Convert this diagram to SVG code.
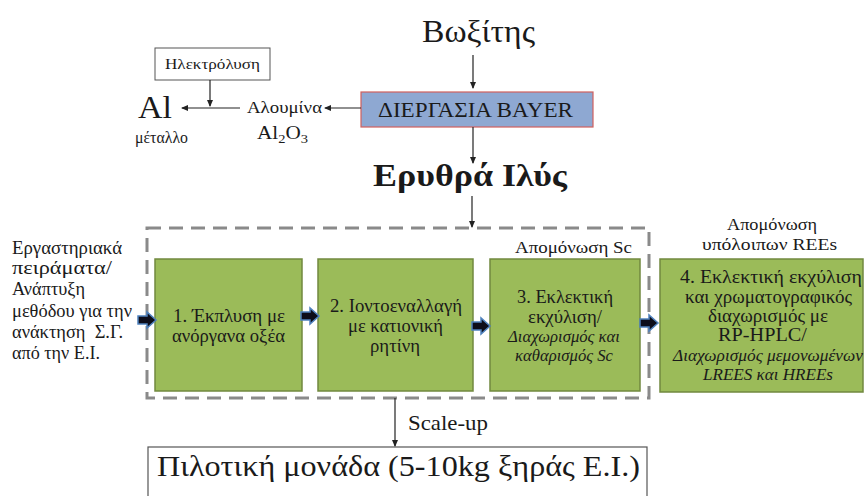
<svg xmlns="http://www.w3.org/2000/svg" width="864" height="496" viewBox="0 0 864 496">
  <style>
    text { font-family: "Liberation Serif", "Times New Roman", serif; fill: #1a1a1a; }
    .c { text-anchor: middle; }
    .step { font-size: 18px; }
    .it { font-style: italic; font-size: 16.5px; }
    .note { font-size: 18px; }
    .green { fill: #9BBB59; stroke: #71893F; stroke-width: 1.5; }
    .thin { stroke: #222; stroke-width: 1.2; fill: none; marker-end: url(#ah); }
    .block { fill: #0d0d1a; stroke: #4F81BD; stroke-width: 1.5; stroke-linejoin: miter; }
  </style>
  <defs>
    <marker id="ah" markerWidth="7" markerHeight="6" refX="6" refY="3" orient="auto" markerUnits="userSpaceOnUse">
      <path d="M0,0 L7,3 L0,6 Z" fill="#222"/>
    </marker>
    <path id="blk" d="M0,-4 H9 V-8 L18,0 L9,8 V4 H0 Z"/>
  </defs>

  <rect width="864" height="496" fill="#ffffff"/>

  <!-- dashed frame around the Sc separation steps -->
  <rect x="147" y="228" width="502" height="170" fill="none" stroke="#8a8a8a" stroke-width="3" stroke-dasharray="14 8"/>

  <g id="bauxite">
    <text x="478.5" y="42" class="c" font-size="31" textLength="113" lengthAdjust="spacingAndGlyphs">Βωξίτης</text>
  </g>

  <g id="bayer">
    <rect x="361" y="92" width="232" height="35" fill="#8EA8D2" stroke="#D0605E" stroke-width="1.2"/>
    <text x="475.5" y="117" class="c" font-size="22" textLength="195" lengthAdjust="spacingAndGlyphs">ΔΙΕΡΓΑΣΙΑ BAYER</text>
  </g>

  <g id="alumina">
    <text x="284.5" y="113" class="c" font-size="17.5" textLength="75" lengthAdjust="spacingAndGlyphs">Αλουμίνα</text>
    <text x="282.5" y="139" class="c" font-size="19" textLength="51" lengthAdjust="spacingAndGlyphs">Al<tspan font-size="13" dy="4">2</tspan><tspan dy="-4">O</tspan><tspan font-size="13" dy="4">3</tspan></text>
  </g>

  <g id="electrolysis">
    <rect x="155" y="48" width="115" height="32" fill="#ffffff" stroke="#555" stroke-width="1"/>
    <text x="212.5" y="69" class="c" font-size="15.5" textLength="95" lengthAdjust="spacingAndGlyphs">Ηλεκτρόλυση</text>
  </g>

  <g id="al-metal">
    <text x="155" y="118" class="c" font-size="32" textLength="34" lengthAdjust="spacingAndGlyphs">Al</text>
    <text x="161.5" y="143" class="c" font-size="16.5" textLength="53" lengthAdjust="spacingAndGlyphs">μέταλλο</text>
  </g>

  <g id="red-mud">
    <text x="470" y="186" class="c" font-size="32" font-weight="bold" textLength="194" lengthAdjust="spacingAndGlyphs">Ερυθρά Ιλύς</text>
  </g>

  <g id="lab-note">
    <text x="12" y="254" class="note" textLength="110" lengthAdjust="spacingAndGlyphs">Εργαστηριακά</text>
    <text x="12" y="274" class="note" textLength="100" lengthAdjust="spacingAndGlyphs">πειράματα/</text>
    <text x="12" y="295" class="note" textLength="73" lengthAdjust="spacingAndGlyphs">Ανάπτυξη</text>
    <text x="12" y="317" class="note" textLength="120" lengthAdjust="spacingAndGlyphs">μεθόδου για την</text>
    <text x="12" y="338" class="note" textLength="111" lengthAdjust="spacingAndGlyphs">ανάκτηση&#160; Σ.Γ.</text>
    <text x="12" y="359" class="note" textLength="88" lengthAdjust="spacingAndGlyphs">από την Ε.Ι.</text>
  </g>

  <g id="sc-label">
    <text x="632" y="253" text-anchor="end" font-size="17" textLength="117" lengthAdjust="spacingAndGlyphs">Απομόνωση Sc</text>
  </g>

  <g id="step1">
    <rect x="155" y="259" width="147" height="132" class="green"/>
    <text x="229" y="322" class="c step" textLength="112" lengthAdjust="spacingAndGlyphs">1. Έκπλυση με</text>
    <text x="228.5" y="342" class="c step" textLength="113" lengthAdjust="spacingAndGlyphs">ανόργανα οξέα</text>
  </g>

  <g id="step2">
    <rect x="318" y="259" width="155" height="132" class="green"/>
    <text x="396" y="312" class="c step" textLength="132" lengthAdjust="spacingAndGlyphs">2. Ιοντοεναλλαγή</text>
    <text x="395.5" y="332" class="c step" textLength="95" lengthAdjust="spacingAndGlyphs">με κατιονική</text>
    <text x="395" y="352" class="c step" textLength="50" lengthAdjust="spacingAndGlyphs">ρητίνη</text>
  </g>

  <g id="step3">
    <rect x="490" y="259" width="150" height="132" class="green"/>
    <text x="565" y="303" class="c step" textLength="96" lengthAdjust="spacingAndGlyphs">3. Εκλεκτική</text>
    <text x="565" y="323" class="c step" textLength="74" lengthAdjust="spacingAndGlyphs">εκχύλιση/</text>
    <text x="564" y="342" class="c it" textLength="112" lengthAdjust="spacingAndGlyphs">Διαχωρισμός και</text>
    <text x="564" y="361" class="c it" textLength="98" lengthAdjust="spacingAndGlyphs">καθαρισμός Sc</text>
  </g>

  <g id="step4">
    <text x="772" y="230" class="c" font-size="17" textLength="90" lengthAdjust="spacingAndGlyphs">Απομόνωση</text>
    <text x="769.5" y="250" class="c" font-size="17" textLength="135" lengthAdjust="spacingAndGlyphs">υπόλοιπων REEs</text>
    <rect x="660" y="259" width="203" height="133" class="green"/>
    <text x="771" y="283" class="c step" textLength="182" lengthAdjust="spacingAndGlyphs">4. Εκλεκτική εκχύλιση</text>
    <text x="768.5" y="303" class="c step" textLength="167" lengthAdjust="spacingAndGlyphs">και χρωματογραφικός</text>
    <text x="768" y="322" class="c step" textLength="120" lengthAdjust="spacingAndGlyphs">διαχωρισμός με</text>
    <text x="762.5" y="341" class="c step" textLength="89" lengthAdjust="spacingAndGlyphs">RP-HPLC/</text>
    <text x="768" y="361" class="c it" textLength="190" lengthAdjust="spacingAndGlyphs">Διαχωρισμός μεμονωμένων</text>
    <text x="768" y="380" class="c it" textLength="130" lengthAdjust="spacingAndGlyphs">LREES και HREEs</text>
  </g>

  <g id="pilot">
    <rect x="148" y="447" width="499" height="60" fill="#ffffff" stroke="#555" stroke-width="1.2"/>
    <text x="398.5" y="476" class="c" font-size="30" textLength="483" lengthAdjust="spacingAndGlyphs">Πιλοτική μονάδα (5-10kg ξηράς Ε.Ι.)</text>
  </g>

  <g id="connectors">
    <line x1="473" y1="55" x2="473" y2="88" class="thin"/>
    <line x1="361" y1="108" x2="325" y2="108" class="thin"/>
    <line x1="240" y1="108" x2="182" y2="108" class="thin"/>
    <line x1="210" y1="80" x2="210" y2="106" class="thin"/>
    <line x1="473" y1="127" x2="473" y2="163" class="thin"/>
    <line x1="472" y1="196" x2="472" y2="227" class="thin"/>
    <line x1="395" y1="398" x2="395" y2="446" class="thin"/>
    <text x="408" y="430" font-size="21" textLength="80" lengthAdjust="spacingAndGlyphs">Scale-up</text>
    <use href="#blk" x="138" y="320" class="block"/>
    <use href="#blk" x="301" y="316" class="block"/>
    <use href="#blk" x="472" y="326" class="block"/>
    <use href="#blk" x="640" y="323" class="block"/>
  </g>
</svg>
